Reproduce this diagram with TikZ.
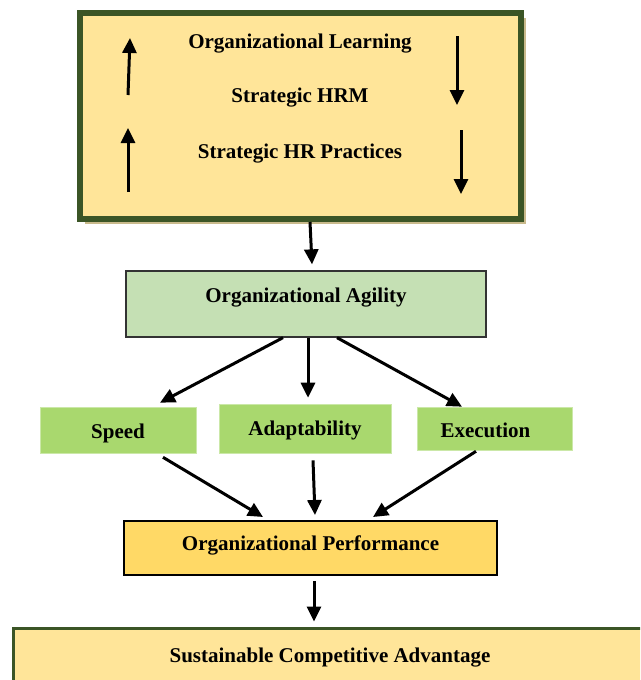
\documentclass[tikz,border=0pt]{standalone}
\usepackage{fontspec}
\setmainfont{Liberation Serif}
\usepackage{tikz}
\usetikzlibrary{arrows.meta,positioning,shadows}

\definecolor{olivedk}{HTML}{3B5526}
\definecolor{paleyel}{HTML}{FFE599}
\definecolor{shadtan}{HTML}{C9BA8C}
\definecolor{agilgrn}{HTML}{C5E0B4}
\definecolor{factgrn}{HTML}{A9D86E}
\definecolor{perfyel}{HTML}{FFD966}

\begin{document}
\begin{tikzpicture}[x=1pt, y=1pt,
  font=\fontsize{21}{25}\selectfont\bfseries,
  lbl/.style={inner sep=0pt},
  topbox/.style={draw=olivedk, line width=6pt, fill=paleyel,
              minimum width=441pt, minimum height=206pt,
              drop shadow={shadow xshift=5pt, shadow yshift=-5pt,
                           fill=shadtan, opacity=1}},
  agilbox/.style={draw=black!80, line width=1.3pt, fill=agilgrn,
              minimum width=360pt, minimum height=66pt,
              text height=15pt, text depth=18pt},
  fact/.style={fill=factgrn, draw=factgrn!60!white, line width=0.6pt,
              text depth=4.6pt},
  perfbox/.style={draw=black, line width=2pt, fill=perfyel,
              minimum width=373pt, minimum height=54pt,
              text height=14.5pt, text depth=8.6pt},
  scabox/.style={draw=olivedk, line width=3pt, fill=paleyel,
              minimum width=634pt, minimum height=54pt,
              text height=20.5pt, text depth=4.6pt},
  ar/.style={-{Triangle[length=15pt,width=14pt]}, line width=3pt}]
\clip (0,0) rectangle (640,-680);
% top block
\node[topbox] (lrn) at (300.5,-116) {};
\node[lbl] (ol) at (300,-44) {Organizational Learning};
\node[lbl] (shrm) at (300,-98) {Strategic HRM};
\node[lbl] (shp) at (300,-154) {Strategic HR Practices};
\coordinate (up1a) at (128,-95);  \coordinate (up1b) at (130,-38);
\coordinate (up2a) at (128,-192); \coordinate (up2b) at (128,-128);
\coordinate (dn1a) at (457,-36);  \coordinate (dn1b) at (457,-105);
\coordinate (dn2a) at (461,-130); \coordinate (dn2b) at (461,-194);
\draw[ar] (up1a)--(up1b); \draw[ar] (up2a)--(up2b);
\draw[ar] (dn1a)--(dn1b); \draw[ar] (dn2a)--(dn2b);
% agility and its dimensions
\node[agilbox] (agil) at (306,-304) {Organizational Agility};
\node[fact, minimum width=156pt, minimum height=46pt, text height=22.5pt] (spd) at (118,-430) {Speed};
\node[fact, minimum width=172pt, minimum height=49pt, text height=18.5pt] (adp) at (305,-428.5) {Adaptability};
\node[fact, minimum width=155pt, minimum height=43pt, text height=22.5pt] (exe) at (494.5,-428.5) {\hspace*{-18pt}Execution};
% outcomes
\node[perfbox] (perf) at (310.5,-548) {Organizational Performance};
\node[scabox] (sca) at (330,-655) {Sustainable Competitive Advantage};
\draw[ar] ([xshift=9.5pt]lrn.south) -- ([xshift=6pt,yshift=6pt]agil.north);
\draw[ar] ([xshift=-23pt]agil.south) -- ([xshift=42pt,yshift=4pt]spd.north);
\draw[ar] ([xshift=2pt]agil.south) -- ([xshift=3pt,yshift=6pt]adp.north);
\draw[ar] ([xshift=31pt]agil.south) -- ([xshift=-32.5pt]exe.north);
\draw[ar] ([xshift=45pt,yshift=-4pt]spd.south) -- ([xshift=-47.5pt,yshift=3pt]perf.north);
\draw[ar] ([xshift=8pt,yshift=-7pt]adp.south) -- ([xshift=4.5pt,yshift=5pt]perf.north);
\draw[ar] ([xshift=-18.5pt,yshift=-1pt]exe.south) -- ([xshift=62.5pt,yshift=3pt]perf.north);
\draw[ar] ([xshift=3.5pt,yshift=-5pt]perf.south) -- ([xshift=-16pt,yshift=5pt]sca.north);
\end{tikzpicture}
\end{document}
